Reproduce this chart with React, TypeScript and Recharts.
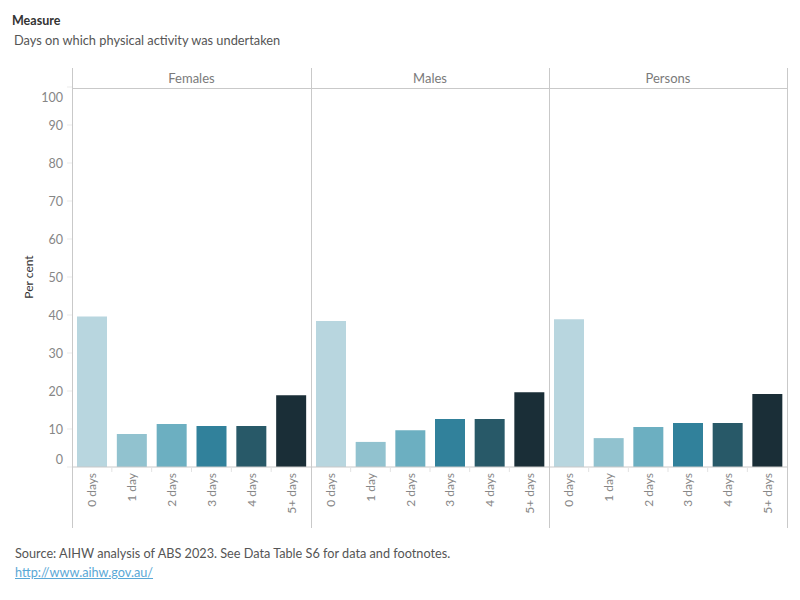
import React from 'react';
import { BarChart, Bar, XAxis, YAxis, Cell } from 'recharts';

// Days on which physical activity was undertaken, per cent of each group
const categories = ['0 days', '1 day', '2 days', '3 days', '4 days', '5+ days'];
const femalesValues = [39.6, 8.7, 11.3, 10.8, 10.8, 18.9];
const malesValues = [38.4, 6.6, 9.7, 12.6, 12.6, 19.7];
const personsValues = [38.9, 7.6, 10.5, 11.6, 11.6, 19.2];
const panelNames = ['Females', 'Males', 'Persons'];
const yTicks = [0, 10, 20, 30, 40, 50, 60, 70, 80, 90, 100];
const barColors = ['#b8d6df', '#91c2cf', '#6cafc1', '#31819b', '#285968', '#1a2e37'];

const FONT = 'Lato, "Noto Sans", sans-serif';
const AXIS_GRAY = '#c9c9c9';
const TICK_TEXT = '#868686';

// layout of the three facets (page coordinates)
const CHART_TOP = 68;
const HEADER_H = 19;
const PLOT_H = 380;
const XAXIS_H = 61;
const CHART_H = HEADER_H + PLOT_H + XAXIS_H;
const YAXIS_W = 72;
const panelEdges = [72, 311, 549, 787];

const toRows = (values: number[]) =>
  categories.map((c, i) => ({ category: c, value: values[i] }));

const panelData = [toRows(femalesValues), toRows(malesValues), toRows(personsValues)];

const YTick = (props: any) => {
  const { x, y, payload } = props;
  let dy = 0;
  if (payload.value === 100) dy = 10;
  if (payload.value === 0) dy = -8;
  return (
    <text
      x={x}
      y={y + dy}
      textAnchor="end"
      dominantBaseline="central"
      fill={TICK_TEXT}
      fontSize={12.5}
      fontFamily={FONT}
    >
      {payload.value}
    </text>
  );
};

const makeXTick = (band: number) => (props: any) => {
  const { x, y, payload, index } = props;
  return (
    <g>
      {index < categories.length - 1 && (
        <line x1={x + band / 2} x2={x + band / 2} y1={y} y2={y + 5} stroke="#e3e3e3" />
      )}
      <text
        transform={`translate(${x},${y + 6}) rotate(-90)`}
        textAnchor="end"
        dominantBaseline="central"
        fill={TICK_TEXT}
        fontSize={12}
        fontFamily={FONT}
      >
        {payload.value}
      </text>
    </g>
  );
};

function Facet({ index }: { index: number }) {
  const withAxis = index === 0;
  const left = withAxis ? 0 : panelEdges[index];
  const plotW = panelEdges[index + 1] - panelEdges[index];
  const width = withAxis ? plotW + YAXIS_W : plotW;
  return (
    <div style={{ position: 'absolute', left, top: CHART_TOP }}>
      <BarChart
        width={width}
        height={CHART_H}
        data={panelData[index]}
        margin={{ top: HEADER_H, right: 0, bottom: 0, left: 0 }}
      >
        <XAxis
          dataKey="category"
          height={XAXIS_H}
          tickLine={false}
          tickSize={0}
          tickMargin={0}
          axisLine={{ stroke: AXIS_GRAY }}
          interval={0}
          tick={makeXTick(plotW / categories.length)}
        />
        <YAxis
          type="number"
          domain={[0, 100]}
          ticks={yTicks}
          hide={!withAxis}
          width={YAXIS_W}
          axisLine={false}
          tickSize={5}
          tickMargin={4}
          tickLine={{ stroke: '#ebebeb' }}
          tick={<YTick />}
          label={{
            value: 'Per cent',
            angle: -90,
            position: 'insideLeft',
            offset: 29,
            style: { textAnchor: 'middle', fill: '#333', fontSize: 12, fontFamily: FONT },
          }}
        />
        <Bar dataKey="value" barSize={30} isAnimationActive={false}>
          {panelData[index].map((row, i) => (
            <Cell key={row.category} fill={barColors[i]} />
          ))}
        </Bar>
      </BarChart>
    </div>
  );
}

export default function App() {
  const textBase: React.CSSProperties = {
    position: 'absolute',
    fontFamily: FONT,
    whiteSpace: 'nowrap',
    lineHeight: '16px',
  };
  return (
    <div style={{ position: 'absolute', left: 0, top: 0, width: 800, height: 600, background: '#fff', fontFamily: FONT }}>
      <div style={{ ...textBase, left: 12, top: 13, fontSize: 12.5, fontWeight: 700, color: '#333' }}>Measure</div>
      <div style={{ ...textBase, left: 14, top: 32, fontSize: 12.8, color: '#555' }}>
        Days on which physical activity was undertaken
      </div>

      {[0, 1, 2].map((i) => (
        <Facet key={i} index={i} />
      ))}

      {/* facet frame: header rule and panel dividers */}
      <div style={{ position: 'absolute', left: panelEdges[0], top: 88, width: panelEdges[3] - panelEdges[0], height: 1, background: AXIS_GRAY }} />
      {panelEdges.map((x) => (
        <div key={x} style={{ position: 'absolute', left: x, top: CHART_TOP, width: 1, height: 460, background: AXIS_GRAY }} />
      ))}
      {panelNames.map((name, i) => (
        <div
          key={name}
          style={{
            ...textBase,
            left: panelEdges[i],
            width: panelEdges[i + 1] - panelEdges[i],
            top: 70,
            textAlign: 'center',
            fontSize: 13,
            color: '#7a7a7a',
          }}
        >
          {name}
        </div>
      ))}

      <div style={{ ...textBase, left: 15, top: 545, fontSize: 12.7, color: '#555' }}>
        Source: AIHW analysis of ABS 2023. See Data Table S6 for data and footnotes.
      </div>
      <div style={{ ...textBase, left: 15, top: 564, fontSize: 12.7, color: '#5aa8d6', textDecoration: 'underline' }}>
        http://www.aihw.gov.au/
      </div>
    </div>
  );
}
